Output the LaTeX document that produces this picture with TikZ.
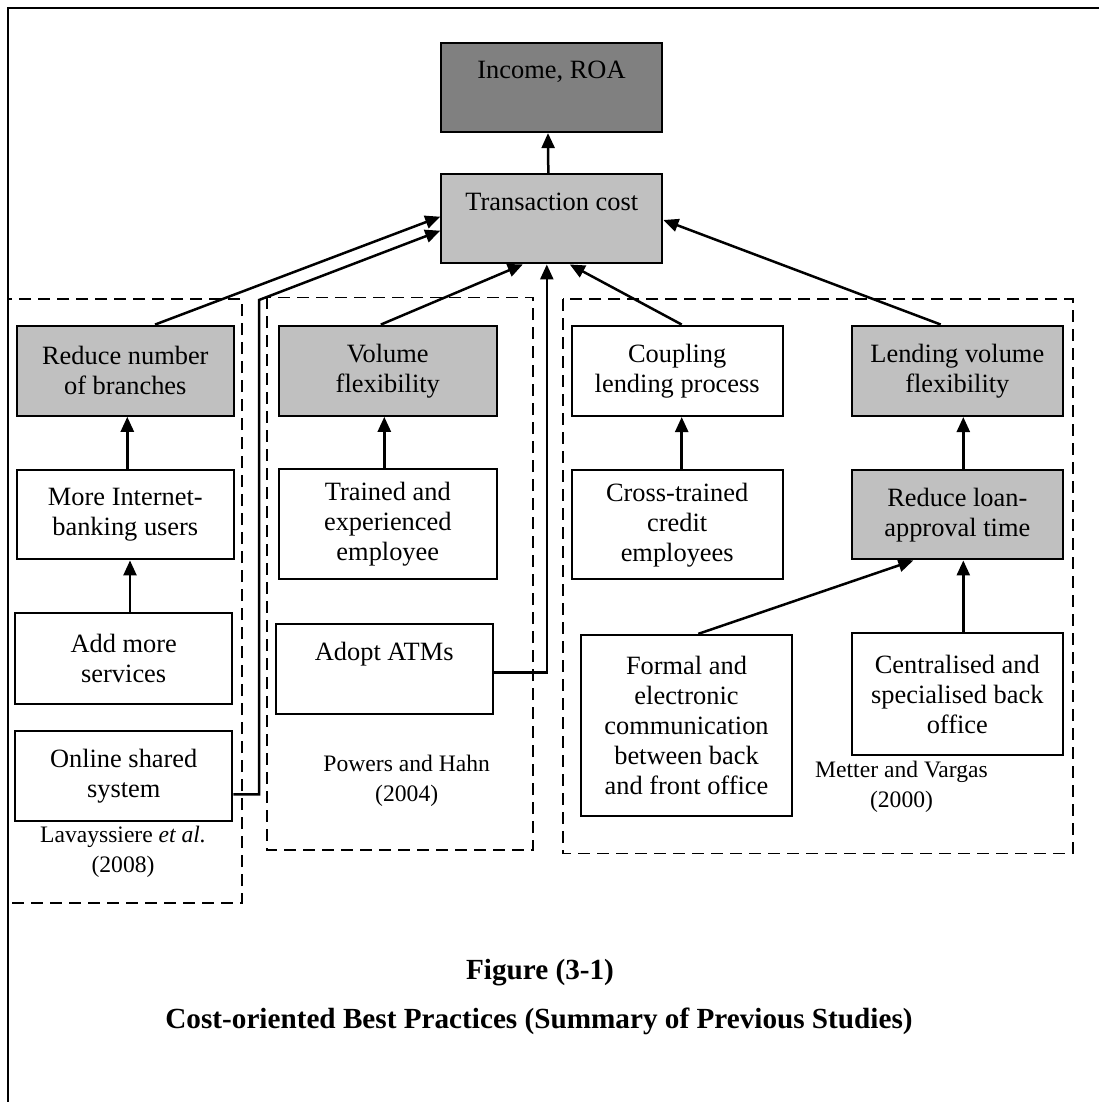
\documentclass[tikz,border=0pt]{standalone}
\usepackage{fontspec}
\setmainfont{Liberation Serif}
\usetikzlibrary{arrows.meta,calc}
\definecolor{darkfill}{HTML}{808080}
\definecolor{lightfill}{HTML}{C0C0C0}
\begin{document}
\begin{tikzpicture}[x=1pt,y=-1pt,
  box/.style={draw=black, line width=2.2pt, align=center, inner sep=0pt,
    font=\fontsize{26.4}{30}\selectfont, text=black},
  graybox/.style={box, fill=lightfill},
  topline/.style={text height=36pt, text depth=53pt},
  cite/.style={align=center, inner sep=0pt, font=\fontsize{23.6}{30}\selectfont},
  link/.style={line width=2.5pt, -{Triangle[length=15pt,width=13pt]}},
  group/.style={line width=1.6pt, dash pattern=on 12pt off 7pt},
  caption/.style={font=\bfseries\fontsize{29.2}{34}\selectfont, anchor=base, inner sep=0pt}]
\useasboundingbox (0,0) rectangle (1099,1102);
\fill[white] (0,0) rectangle (1099,1102);

% page frame
\draw[line width=2.5pt] (1099,8) -- (8,8) -- (8,1102);

% study groups
\draw[group] (8,299) rectangle (242,903);
\draw[group] (266.7,297.3) rectangle (533,850);
\draw[group] (562.7,299) rectangle (1072.7,853.3);

% outcome boxes
\node[box, fill=darkfill, topline, minimum width=221pt, minimum height=89pt] (inc) at (551.5,87.5) {Income, ROA};
\node[graybox, topline, minimum width=221pt, minimum height=89.3pt] (tc) at (551.8,218.7) {Transaction cost};

% Lavayssiere et al.
\node[graybox, minimum width=217.3pt, minimum height=90pt] (rnb) at (125.3,370.7) {Reduce number\\of branches};
\node[box, minimum width=217.3pt, minimum height=89.3pt] (mib) at (125.3,514.7) {More Internet-\\banking users};
\node[box, minimum width=217.3pt, minimum height=90.7pt] (ams) at (123.7,658.7) {Add more\\services};
\node[box, minimum width=217.3pt, minimum height=90pt] (oss) at (123.7,776) {Online shared\\system};
\node[cite] (lav) at (123,852) {Lavayssiere \textit{et al.}\\(2008)};

% Powers and Hahn
\node[graybox, minimum width=217.7pt, minimum height=90pt] (vf) at (387.8,370.7) {Volume\\flexibility};
\node[box, minimum width=217.7pt, minimum height=110pt] (tee) at (387.8,524.3) {Trained and\\experienced\\employee};
\node[box, topline, minimum width=217pt, minimum height=90pt] (atm) at (384.2,669) {Adopt ATMs};
\node[cite] (ph) at (406.7,781) {Powers and Hahn\\(2004)};

% Metter and Vargas
\node[box, minimum width=211pt, minimum height=90.3pt] (clp) at (677.2,370.8) {Coupling\\lending process};
\node[graybox, minimum width=210.7pt, minimum height=90.3pt] (lvf) at (957.3,370.8) {Lending volume\\flexibility};
\node[box, minimum width=211pt, minimum height=109.3pt] (cce) at (677.2,524.7) {Cross-trained\\credit\\employees};
\node[graybox, minimum width=210.7pt, minimum height=89.3pt] (rla) at (957.3,514.7) {Reduce loan-\\approval time};
\node[box, minimum width=211pt, minimum height=180.7pt] (fec) at (686.5,725.3) {Formal and\\electronic\\communication\\between back\\and front office};
\node[box, minimum width=210.7pt, minimum height=121.7pt] (csb) at (957.3,694.2) {Centralised and\\specialised back\\office};
\node[cite] (mv) at (901.5,787) {Metter and Vargas\\(2000)};

% connectors
\coordinate (ossbend) at (259,300);
\draw[link] ([xshift=-3.5pt]tc.north) -- ([xshift=-3.5pt]inc.south);
\draw[link] ([xshift=29.7pt]rnb.north) -- ([yshift=2pt]tc.west);
\draw[link] ([yshift=-18.3pt]oss.east) -| (ossbend) -- ([yshift=-12pt]tc.west);
\draw[link] ([xshift=-7pt]vf.north) -- ([xshift=-29pt]tc.south);
\draw[link] ([yshift=-3.7pt]atm.east) -| ([xshift=-5pt]tc.south);
\draw[link] ([xshift=4.5pt]clp.north) -- ([xshift=18pt]tc.south);
\draw[link] ([xshift=-16.6pt]lvf.north) -- ([yshift=-1.3pt]tc.east);

\draw[link] ([xshift=2pt]mib.north) -- ([xshift=2pt]rnb.south);
\draw[link] ([xshift=6.3pt]ams.north) -- ([xshift=6.3pt]ams.north |- mib.south);
\draw[link] ([xshift=-3.5pt]tee.north) -- ([xshift=-3.5pt]vf.south);
\draw[link] ([xshift=4.5pt]cce.north) -- ([xshift=4.5pt]clp.south);
\draw[link] ([xshift=6pt]rla.north) -- ([xshift=6pt]lvf.south);
\draw[link] ([xshift=6pt]csb.north) -- ([xshift=6pt]rla.south);
\draw[link] ([xshift=11.8pt]fec.north) -- ([xshift=-44pt]rla.south);

% caption
\node[caption] (fig) at (540,979) {Figure (3-1)};
\node[caption] (sub) at (539,1028) {Cost-oriented Best Practices (Summary of Previous Studies)};
\end{tikzpicture}
\end{document}
